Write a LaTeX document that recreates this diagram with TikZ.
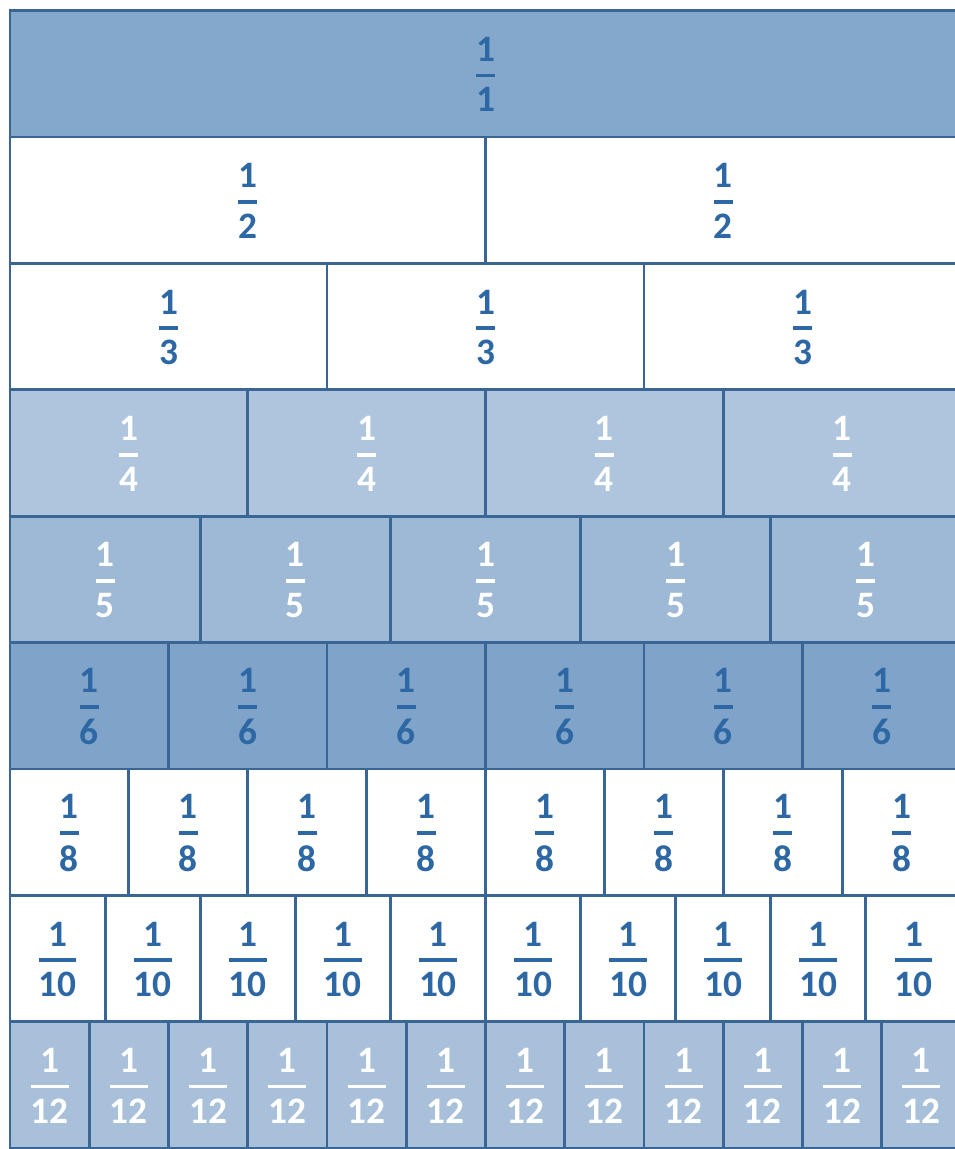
\documentclass[tikz,border=0pt]{standalone}
\usepackage{amsmath}
\usepackage{fontspec}
\setmainfont{Carlito}
\definecolor{wallLine}{RGB}{58,102,150}
\definecolor{wallInk}{RGB}{46,104,164}
\definecolor{barOne}{RGB}{132,167,204}
\definecolor{barFour}{RGB}{174,197,221}
\definecolor{barFive}{RGB}{157,185,214}
\definecolor{barSix}{RGB}{128,163,201}
\definecolor{barTwelve}{RGB}{168,192,218}
\newcommand{\unitfrac}[1]{$\genfrac{}{}{2.6pt}{0}{\text{1}}{\text{#1}}$}

\begin{document}
\begin{tikzpicture}[x=0.75pt, y=-0.75pt,
    cell/.style={draw=wallLine, line width=2.2pt},
    frac/.style={font=\fontsize{28}{30}\selectfont\bfseries, inner sep=0pt}]
  \useasboundingbox (0,0) rectangle (954,1149);

  % one row of the wall for each denominator
  \foreach \d/\cellfill/\ink [count=\r from 0] in {1/barOne/wallInk, 2/white/wallInk,
      3/white/wallInk, 4/barFour/white, 5/barFive/white, 6/barSix/wallInk,
      8/white/wallInk, 10/white/wallInk, 12/barTwelve/white} {
    \foreach \k in {1,...,\d} {
      \pgfmathsetmacro\xa{10+(\k-1)*951/\d}
      \pgfmathsetmacro\xb{10+\k*951/\d}
      \pgfmathsetmacro\ya{10.6+\r*126.4}
      \draw[cell, fill=\cellfill] (\xa,\ya) rectangle (\xb,\ya+126.4);
      \node[frac, text=\ink] (f\d-\k) at ({(\xa+\xb)/2},\ya+64) {\unitfrac{\d}};
    }
  }
\end{tikzpicture}
\end{document}
